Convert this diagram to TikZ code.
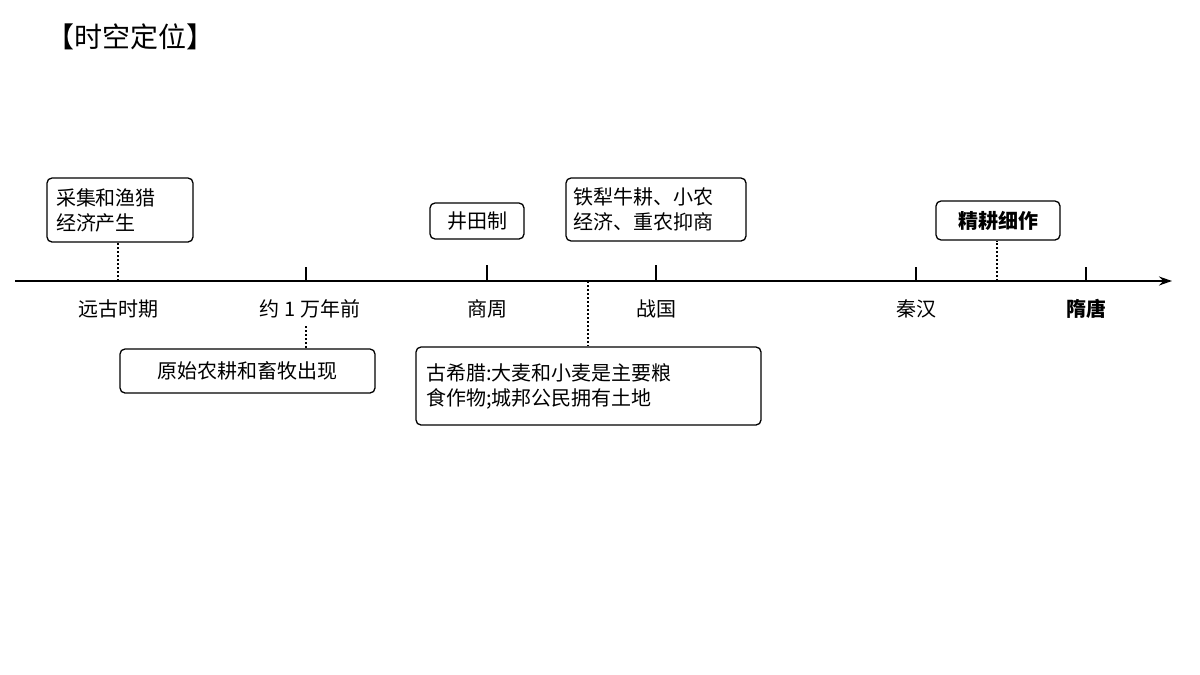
\documentclass[tikz,border=0pt]{standalone}
\usepackage{fontspec}
\newfontfamily\cjk{Noto Sans CJK SC}
\usetikzlibrary{arrows.meta}
\begin{document}
\begin{tikzpicture}[x=1pt,y=-1pt,font=\cjk\fontsize{20}{25}\selectfont,
 box/.style={draw,line width=1.3pt,rounded corners=5pt,align=left,inner sep=0pt,text width=#1},
 lab/.style={inner sep=0pt},
 dot/.style={line width=1.3pt,dash pattern=on 2pt off 2pt},
 tk/.style={line width=1.3pt}]
\useasboundingbox (0,0) rectangle (1200,675);
\node[lab,anchor=west,font=\cjk\fontsize{28}{32}\selectfont] (title) at (46,37) {【时空定位】};
\coordinate (s) at (15,281); \coordinate (e) at (1172,281);
\draw[line width=1.6pt,-{Stealth[length=13pt,width=9pt]}] (s) -- (e);
% boxes
\node[box=128pt,minimum height=64pt,draw=none] (b1) at (120,210) {采集和渔猎\\经济产生};
\draw[line width=1.3pt,rounded corners=5pt] (47,178) rectangle (193,242);
\node[draw,line width=1.3pt,rounded corners=5pt,inner sep=0pt,minimum width=94pt,minimum height=36pt] (b2) at (477,221) {井田制};
\node[box=166pt,minimum height=63pt,draw=none] (b3) at (656,209.5) {铁犁牛耕、小农\\经济、重农抑商};
\draw[line width=1.3pt,rounded corners=5pt] (566,178) rectangle (746,241);
\node[draw,line width=1.3pt,rounded corners=5pt,inner sep=0pt,minimum width=124pt,minimum height=39pt] (b4) at (998,220.5) {\textbf{精耕细作}};
\node[draw,line width=1.3pt,rounded corners=5pt,inner sep=0pt,minimum width=255pt,minimum height=44pt] (b5) at (247.5,371) {原始农耕和畜牧出现};
\node[box=328pt,minimum height=78pt,draw=none] (b6) at (590,386) {古希腊:大麦和小麦是主要粮\\食作物;城邦公民拥有土地};
\draw[line width=1.3pt,rounded corners=5pt] (416,347) rectangle (761,425);
% axis points
\coordinate (p1) at (118,281); \coordinate (p2) at (306,281); \coordinate (p3) at (487,281);
\coordinate (p4) at (588,281); \coordinate (p5) at (656,281); \coordinate (p6) at (916,281);
\coordinate (p7) at (997,281); \coordinate (p8) at (1086,281);
\coordinate (q2) at (306,326);
\draw[dot] (p1) -- (p1|-b1.south);
\draw[tk] (p2) -- ++(0,-14);
\draw[dot] (q2) -- (q2|-b5.north);
\draw[tk] (p3) -- ++(0,-16);
\draw[dot] (p4) -- (p4|-b6.north);
\draw[tk] (p5) -- ++(0,-16);
\draw[tk] (p6) -- ++(0,-14);
\draw[dot] (p7) -- (p7|-b4.south);
\draw[tk] (p8) -- ++(0,-14);
% labels
\node[lab] (l1) at (118,309) {远古时期};
\node[lab] (l2) at (310,309) {约 1 万年前};
\node[lab] (l3) at (487,309) {商周};
\node[lab] (l4) at (656,309) {战国};
\node[lab] (l5) at (916,309) {秦汉};
\node[lab] (l6) at (1086,309) {\textbf{隋唐}};
\end{tikzpicture}
\end{document}
